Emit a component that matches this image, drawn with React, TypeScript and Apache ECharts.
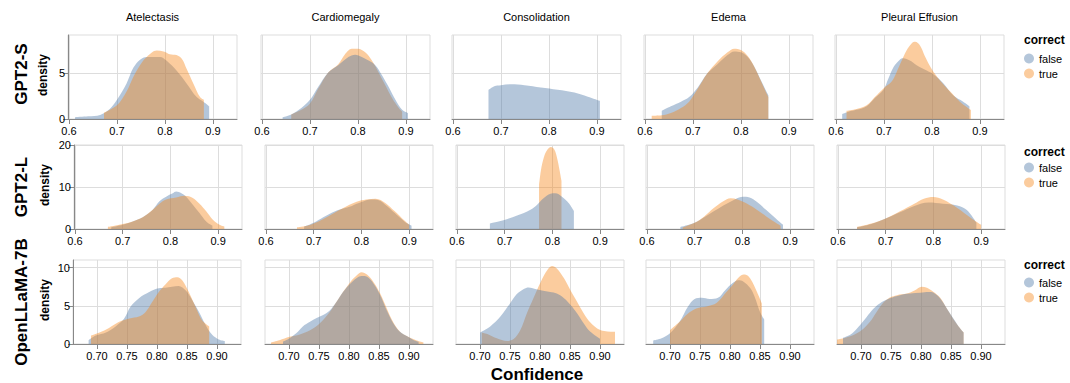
import React, { useEffect, useRef } from "react";
import * as echarts from "echarts";

// ---------- categories ----------
const conditions = ["Atelectasis", "Cardiomegaly", "Consolidation", "Edema", "Pleural Effusion"];
const models = ["GPT2-S", "GPT2-L", "OpenLLaMA-7B"];
const correctValues = ["false", "true"];

// ---------- tick labels ----------
const xTicksGpt2s = [0.6, 0.7, 0.8, 0.9];
const xTicksGpt2l = [0.6, 0.7, 0.8, 0.9];
const xTicksLlama = [0.7, 0.75, 0.8, 0.85, 0.9];
const yTicksGpt2s = [0, 5];
const yTicksGpt2l = [0, 10, 20];
const yTicksLlama = [0, 5, 10];

// ---------- density values [confidence, density] ----------
// GPT2-S
const gpt2sAtelectasisFalse = [[0.6125,0.2],[0.64,0.3],[0.665,0.45],[0.685,1.1],[0.7,2.1],[0.72,3.9],[0.734,5.6],[0.748,6.5],[0.762,6.8],[0.79,6.8],[0.803,6.4],[0.824,5.3],[0.845,3.9],[0.866,2.4],[0.88,1.9],[0.892,1.4]];
const gpt2sAtelectasisTrue = [[0.673,0.7],[0.7,1.5],[0.72,3.0],[0.734,4.6],[0.748,5.9],[0.762,6.8],[0.783,7.5],[0.797,7.4],[0.81,7.1],[0.824,7.0],[0.835,6.6],[0.845,5.5],[0.859,3.9],[0.873,2.4],[0.881,2.1]];
const gpt2sCardiomegalyFalse = [[0.643,0.2],[0.661,0.5],[0.682,1.2],[0.7,2.1],[0.717,3.5],[0.738,5.1],[0.759,5.9],[0.78,6.8],[0.794,7.05],[0.808,6.8],[0.822,6.4],[0.836,5.9],[0.85,4.8],[0.864,3.5],[0.878,2.1],[0.892,1.0],[0.904,0.65]];
const gpt2sCardiomegalyTrue = [[0.661,0.5],[0.682,1.0],[0.7,1.7],[0.717,3.3],[0.738,5.1],[0.759,6.0],[0.773,7.1],[0.787,7.7],[0.8,7.7],[0.815,7.3],[0.829,6.4],[0.843,5.1],[0.857,3.7],[0.871,2.3],[0.885,1.2],[0.892,0.8]];
const gpt2sConsolidationFalse = [[0.674,3.2],[0.686,3.6],[0.7,3.7],[0.721,3.8],[0.749,3.7],[0.783,3.45],[0.818,3.2],[0.853,2.9],[0.881,2.45],[0.906,2.0]];
const gpt2sConsolidationTrue: number[][] = [];
const gpt2sEdemaFalse = [[0.635,0.9],[0.654,1.4],[0.675,1.9],[0.692,2.4],[0.71,3.45],[0.73,5.0],[0.751,6.0],[0.772,7.0],[0.786,7.4],[0.8,7.3],[0.814,6.8],[0.828,5.7],[0.842,4.2],[0.857,2.6]];
const gpt2sEdemaTrue = [[0.614,0.35],[0.635,0.4],[0.654,0.65],[0.675,1.2],[0.692,1.9],[0.71,3.3],[0.73,5.0],[0.751,6.3],[0.772,7.3],[0.786,7.7],[0.8,7.55],[0.814,6.9],[0.828,5.7],[0.842,4.1],[0.857,2.4]];
const gpt2sPleuralFalse = [[0.613,0.55],[0.626,0.8],[0.643,1.0],[0.664,1.4],[0.681,2.3],[0.699,3.2],[0.709,4.4],[0.72,5.7],[0.733,6.5],[0.74,6.65],[0.754,6.4],[0.768,5.9],[0.789,5.3],[0.803,4.9],[0.824,3.9],[0.844,2.6],[0.865,1.9],[0.878,1.4]];
const gpt2sPleuralTrue = [[0.622,0.9],[0.643,1.1],[0.664,1.5],[0.681,2.4],[0.699,3.35],[0.716,4.1],[0.726,5.1],[0.737,6.4],[0.747,7.5],[0.758,8.3],[0.765,8.45],[0.775,8.05],[0.785,6.9],[0.799,5.5],[0.817,4.2],[0.838,3.0],[0.858,1.9],[0.881,1.0]];

// GPT2-L
const gpt2lAtelectasisFalse = [[0.676,0.4],[0.7,1.0],[0.721,1.8],[0.742,2.8],[0.763,4.6],[0.777,6.6],[0.791,7.7],[0.805,8.5],[0.812,8.9],[0.823,8.5],[0.833,7.7],[0.847,5.8],[0.861,3.8],[0.875,1.8],[0.888,0.8]];
const gpt2lAtelectasisTrue = [[0.669,0.5],[0.7,1.2],[0.721,1.8],[0.742,2.8],[0.763,4.6],[0.777,6.0],[0.791,7.0],[0.812,7.5],[0.83,7.9],[0.847,7.4],[0.861,6.0],[0.875,4.2],[0.889,2.2],[0.903,1.0],[0.913,0.6]];
const gpt2lCardiomegalyFalse = [[0.68,0.6],[0.7,1.5],[0.72,2.8],[0.74,4.0],[0.76,4.8],[0.78,5.5],[0.8,6.4],[0.82,7.0],[0.835,6.9],[0.85,5.8],[0.87,3.8],[0.89,1.8],[0.905,0.8]];
const gpt2lCardiomegalyTrue = [[0.665,0.4],[0.69,0.9],[0.71,1.8],[0.73,3.0],[0.75,4.3],[0.77,5.5],[0.79,6.5],[0.81,7.0],[0.83,7.2],[0.85,6.2],[0.87,4.2],[0.89,2.0],[0.9,1.0]];
const gpt2lConsolidationFalse = [[0.669,1.3],[0.685,1.7],[0.706,2.4],[0.726,3.2],[0.754,4.6],[0.768,5.8],[0.782,7.4],[0.796,8.4],[0.806,8.5],[0.82,7.7],[0.834,6.2],[0.845,4.3]];
const gpt2lConsolidationTrue = [[0.772,10.5],[0.776,14.0],[0.782,17.0],[0.789,18.8],[0.797,19.5],[0.804,18.9],[0.81,16.8],[0.815,14.0],[0.819,11.5]];
const gpt2lEdemaFalse = [[0.67,0.5],[0.7,1.5],[0.72,2.8],[0.74,4.2],[0.76,5.6],[0.78,6.8],[0.8,7.7],[0.815,7.5],[0.83,6.5],[0.85,4.5],[0.87,2.5],[0.885,1.0]];
const gpt2lEdemaTrue = [[0.675,0.4],[0.7,1.5],[0.72,3.0],[0.74,5.0],[0.76,6.6],[0.775,7.3],[0.79,7.0],[0.81,6.0],[0.83,4.6],[0.85,3.0],[0.87,1.5],[0.88,0.8]];
const gpt2lPleuralFalse = [[0.64,0.4],[0.67,1.2],[0.7,2.5],[0.73,4.0],[0.76,5.5],[0.79,6.3],[0.82,6.0],[0.85,5.6],[0.87,4.5],[0.89,1.5]];
const gpt2lPleuralTrue = [[0.64,0.5],[0.67,1.3],[0.7,2.5],[0.73,4.2],[0.76,6.0],[0.78,7.2],[0.8,7.6],[0.82,7.0],[0.85,5.0],[0.88,2.5],[0.9,1.0]];

// OpenLLaMA-7B
const llamaAtelectasisFalse = [[0.686,0.5],[0.698,1.1],[0.715,1.5],[0.731,2.3],[0.745,3.3],[0.756,4.9],[0.77,6.0],[0.787,6.8],[0.803,7.3],[0.814,7.35],[0.825,7.5],[0.836,7.6],[0.848,7.0],[0.859,5.7],[0.87,4.2],[0.881,2.5],[0.892,1.2],[0.903,0.6],[0.913,0.4]];
const llamaAtelectasisTrue = [[0.69,1.1],[0.704,1.5],[0.72,2.1],[0.737,2.9],[0.754,3.35],[0.77,3.6],[0.781,4.2],[0.792,5.5],[0.803,6.8],[0.814,7.8],[0.825,8.6],[0.834,8.75],[0.842,8.35],[0.853,6.8],[0.864,4.9],[0.875,3.1],[0.887,2.3]];
const llamaCardiomegalyFalse = [[0.69,0.3],[0.701,0.75],[0.712,1.4],[0.723,2.3],[0.735,2.9],[0.746,3.4],[0.757,3.8],[0.768,4.4],[0.779,5.5],[0.79,6.8],[0.802,7.9],[0.813,8.65],[0.821,8.9],[0.83,8.8],[0.841,7.9],[0.852,6.4],[0.863,4.4],[0.874,2.7],[0.885,1.6],[0.897,1.0],[0.908,0.5],[0.916,0.3]];
const llamaCardiomegalyTrue = [[0.67,0.2],[0.684,0.5],[0.701,0.95],[0.718,1.25],[0.735,1.8],[0.751,2.7],[0.768,4.2],[0.779,5.5],[0.79,6.8],[0.802,8.1],[0.813,9.0],[0.821,9.4],[0.83,9.1],[0.841,8.1],[0.852,6.6],[0.863,4.65],[0.874,2.8],[0.885,1.6],[0.897,1.0],[0.913,0.45],[0.924,0.2]];
const llamaConsolidationFalse = [[0.7,1.5],[0.717,2.3],[0.734,3.6],[0.75,5.3],[0.761,6.5],[0.773,7.2],[0.781,7.4],[0.792,7.2],[0.803,7.0],[0.817,6.8],[0.828,6.6],[0.84,6.0],[0.851,5.1],[0.862,4.0],[0.873,2.7],[0.884,1.6],[0.9,0.7]];
const llamaConsolidationTrue = [[0.703,1.5],[0.714,1.25],[0.728,0.75],[0.745,0.4],[0.756,0.65],[0.767,1.8],[0.778,4.0],[0.789,6.0],[0.801,8.1],[0.812,9.65],[0.82,10.2],[0.828,9.9],[0.84,8.6],[0.851,7.0],[0.862,5.5],[0.873,4.0],[0.884,2.8],[0.896,2.0],[0.907,1.7],[0.918,1.6],[0.925,1.6]];
const llamaEdemaFalse = [[0.672,0.45],[0.686,0.75],[0.7,1.4],[0.716,2.9],[0.73,4.9],[0.741,5.9],[0.753,6.05],[0.766,5.9],[0.78,6.05],[0.792,7.05],[0.803,7.9],[0.814,8.35],[0.822,8.2],[0.834,7.3],[0.842,6.0],[0.85,4.2],[0.857,3.2]];
const llamaEdemaTrue = [[0.7,1.8],[0.716,2.9],[0.73,4.0],[0.744,4.65],[0.761,4.9],[0.778,5.4],[0.794,6.8],[0.806,7.9],[0.817,8.9],[0.825,9.1],[0.834,8.55],[0.845,6.8],[0.853,5.3]];
const llamaPleuralFalse = [[0.67,0.8],[0.682,1.2],[0.693,2.0],[0.704,3.0],[0.715,4.1],[0.726,5.0],[0.737,5.6],[0.748,6.0],[0.765,6.4],[0.782,6.6],[0.799,6.7],[0.813,6.8],[0.821,6.7],[0.832,5.95],[0.843,4.65],[0.854,3.35],[0.865,2.05],[0.871,1.5]];
const llamaPleuralTrue = [[0.66,0.6],[0.673,0.8],[0.682,1.0],[0.693,1.4],[0.704,2.0],[0.715,2.9],[0.726,4.2],[0.737,5.4],[0.748,6.1],[0.76,6.4],[0.776,6.6],[0.79,7.05],[0.801,7.5],[0.81,7.35],[0.821,6.8],[0.832,6.05],[0.843,4.65],[0.854,3.25],[0.863,2.25],[0.871,1.5]];

// ---------- table built from the arrays ----------
const panelData = [
  [[gpt2sAtelectasisFalse, gpt2sAtelectasisTrue], [gpt2sCardiomegalyFalse, gpt2sCardiomegalyTrue], [gpt2sConsolidationFalse, gpt2sConsolidationTrue], [gpt2sEdemaFalse, gpt2sEdemaTrue], [gpt2sPleuralFalse, gpt2sPleuralTrue]],
  [[gpt2lAtelectasisFalse, gpt2lAtelectasisTrue], [gpt2lCardiomegalyFalse, gpt2lCardiomegalyTrue], [gpt2lConsolidationFalse, gpt2lConsolidationTrue], [gpt2lEdemaFalse, gpt2lEdemaTrue], [gpt2lPleuralFalse, gpt2lPleuralTrue]],
  [[llamaAtelectasisFalse, llamaAtelectasisTrue], [llamaCardiomegalyFalse, llamaCardiomegalyTrue], [llamaConsolidationFalse, llamaConsolidationTrue], [llamaEdemaFalse, llamaEdemaTrue], [llamaPleuralFalse, llamaPleuralTrue]],
];
const xTicksByRow = [xTicksGpt2s, xTicksGpt2l, xTicksLlama];
const yTicksByRow = [yTicksGpt2s, yTicksGpt2l, yTicksLlama];

// ---------- layout / style ----------
const FONT = "'Liberation Sans', Arial, Helvetica, sans-serif";
const fills = ["rgba(76,120,168,0.42)", "rgba(245,133,24,0.42)"];
const xRangeByRow = [[0.598, 0.95], [0.598, 0.95], [0.66, 0.94]];
const yMaxByRow = [9.2, 20, 11];
const gridTops = [35, 145, 260];
const gridHeight = 84;
const gridLefts = [[68, 261, 452, 644, 835], [74, 265, 456, 646, 837], [73, 265, 456, 646, 837]];
const gridWidths = [169, 168, 168];
// which group is drawn on top, per panel (true = "true" on top)
const trueOnTop = [[true, false, true, true, true], [true, true, false, true, true], [true, false, false, true, false]];

function buildOption() {
  const grid: any[] = [];
  const xAxis: any[] = [];
  const yAxis: any[] = [];
  const series: any[] = [];
  const graphic: any[] = [];
  const legend: any[] = [];

  models.forEach((model, ri) => {
    conditions.forEach((cond, ci) => {
      const idx = ri * 5 + ci;
      grid.push({
        left: gridLefts[ri][ci], top: gridTops[ri], width: gridWidths[ri], height: gridHeight,
        show: true, borderColor: "#ddd", borderWidth: 1, backgroundColor: "transparent",
        containLabel: false, outerBoundsMode: "none",
      });
      const xt = xTicksByRow[ri];
      xAxis.push({
        type: "value", gridIndex: idx, min: xRangeByRow[ri][0], max: xRangeByRow[ri][1],
        axisLine: { show: true, onZero: false, lineStyle: { color: "#888", width: 1 } },
        axisTick: { show: true, length: 5, customValues: xt, lineStyle: { color: "#888" } },
        axisLabel: {
          customValues: xt, fontSize: 11, color: "#000", margin: 6, fontFamily: FONT,
          formatter: (v: number) => (ri === 2 ? v.toFixed(2) : v.toFixed(1)),
        },
        splitLine: { show: true, lineStyle: { color: "#ddd", width: 1 } },
      });
      const yt = yTicksByRow[ri];
      yAxis.push({
        type: "value", gridIndex: idx, min: 0, max: yMaxByRow[ri],
        axisLine: { show: ci === 0, onZero: false, lineStyle: { color: "#888", width: 1 } },
        axisTick: { show: ci === 0, length: 5, customValues: yt, lineStyle: { color: "#888" } },
        axisLabel: { show: ci === 0, customValues: yt, fontSize: 11, color: "#000", margin: 3, fontFamily: FONT },
        splitLine: { show: true, lineStyle: { color: "#ddd", width: 1 } },
      });
      const order = trueOnTop[ri][ci] ? [0, 1] : [1, 0];
      order.forEach((k) => {
        const data = panelData[ri][ci][k];
        if (!data.length) return;
        series.push({
          type: "line", name: correctValues[k], xAxisIndex: idx, yAxisIndex: idx,
          data, smooth: 0.35, symbol: "none", showSymbol: false, silent: true,
          color: fills[k],
          itemStyle: { color: fills[k] },
          lineStyle: { width: 0, color: fills[k] },
          areaStyle: { color: fills[k], opacity: 1 },
        });
      });
    });

    // row title
    graphic.push({
      type: "text", x: 21, y: gridTops[ri] + gridHeight / 2 - (ri === 0 ? 3 : 0), rotation: Math.PI / 2,
      style: { text: model, fontSize: 17, fontWeight: "bold", fill: "#000", fontFamily: FONT, align: "center", verticalAlign: "middle" },
    });
    // y axis title
    graphic.push({
      type: "text", x: ri === 0 ? 43 : 45, y: gridTops[ri] + gridHeight / 2 - 2, rotation: Math.PI / 2,
      style: { text: "density", fontSize: 12, fontWeight: "bold", fill: "#000", fontFamily: FONT, align: "center", verticalAlign: "middle" },
    });
    // legend title
    graphic.push({
      type: "text", x: 1024, y: [40, 152, 265][ri],
      style: { text: "correct", fontSize: 12, fontWeight: "bold", fill: "#000", fontFamily: FONT, align: "left", verticalAlign: "middle" },
    });
    legend.push({
      data: correctValues, orient: "vertical", left: 1024, top: [53, 162, 277][ri],
      icon: "circle", itemWidth: 10, itemHeight: 10, itemGap: 4, padding: 0, selectedMode: false,
      textStyle: { fontSize: 11, color: "#000", fontFamily: FONT },
    });
  });

  // column titles
  conditions.forEach((cond, ci) => {
    graphic.push({
      type: "text", x: gridLefts[0][ci] + gridWidths[0] / 2, y: 17,
      style: { text: cond, fontSize: 11, fill: "#000", fontFamily: FONT, align: "center", verticalAlign: "middle" },
    });
  });
  // x axis title
  graphic.push({
    type: "text", x: 537, y: 374,
    style: { text: "Confidence", fontSize: 17, fontWeight: "bold", fill: "#000", fontFamily: FONT, align: "center", verticalAlign: "middle" },
  });

  return {
    animation: false,
    backgroundColor: "#fff",
    textStyle: { fontFamily: FONT },
    grid, xAxis, yAxis, series, graphic, legend,
  };
}

export default function App() {
  const ref = useRef<HTMLDivElement>(null);
  useEffect(() => {
    document.body.style.margin = "0";
    if (!ref.current) return;
    const chart = echarts.init(ref.current, undefined, { renderer: "svg" });
    chart.setOption(buildOption() as any);
    return () => chart.dispose();
  }, []);
  return <div ref={ref} style={{ width: 1070, height: 383 }} />;
}
